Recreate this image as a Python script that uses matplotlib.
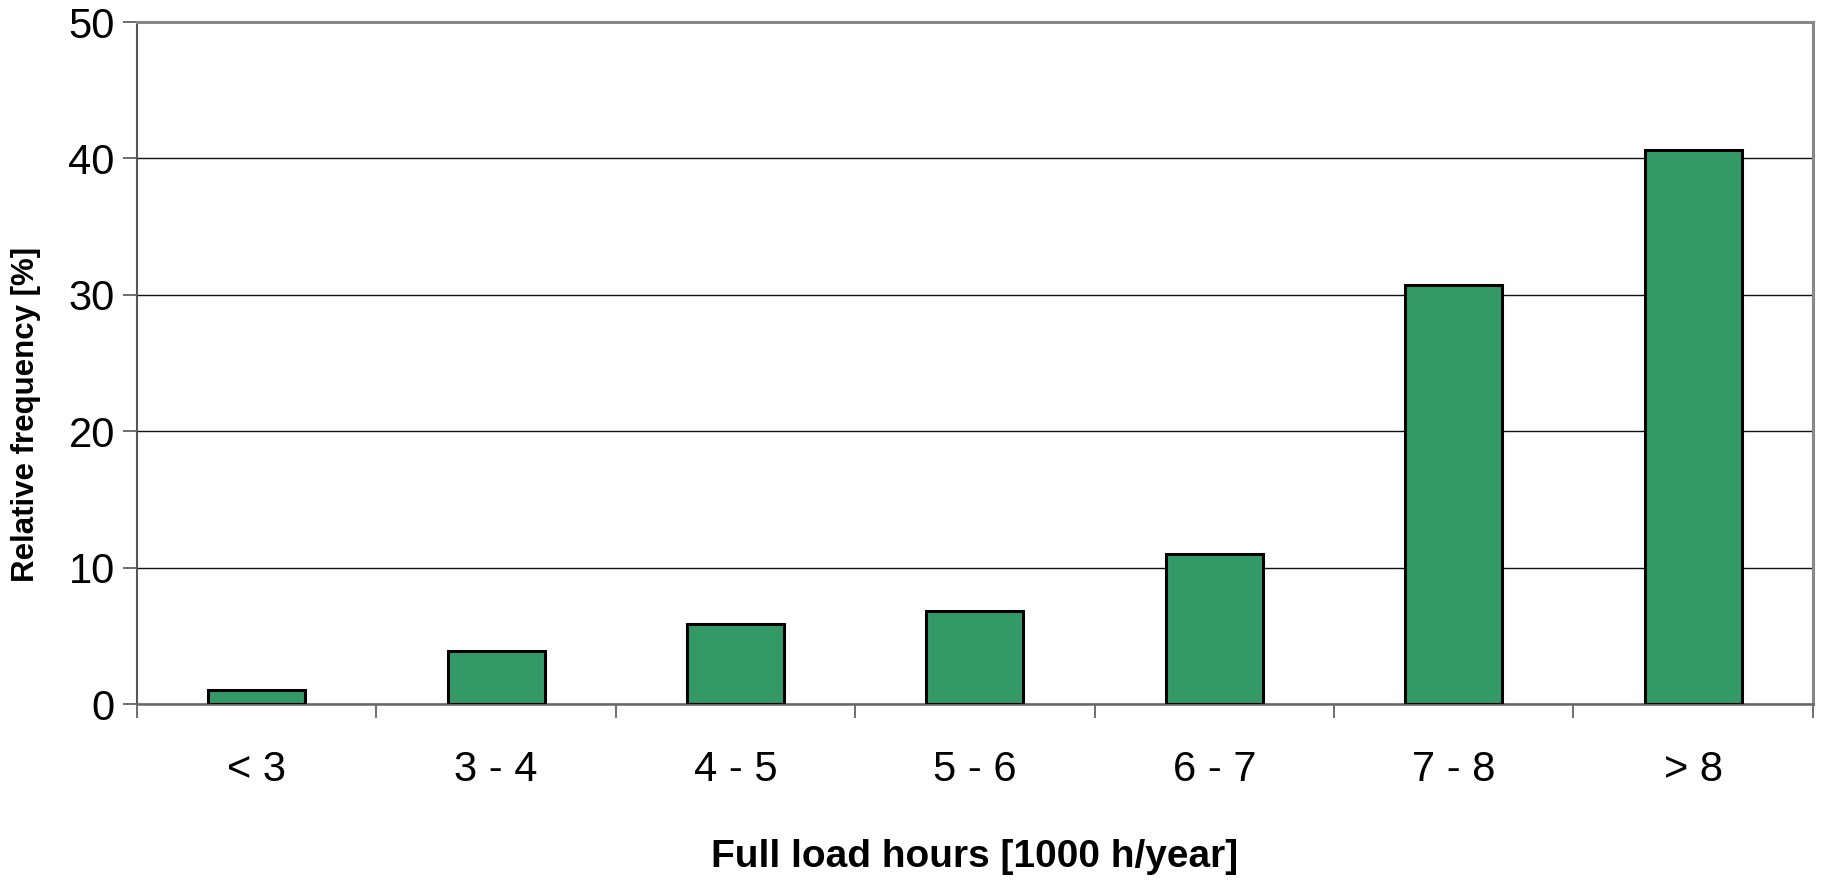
import numpy as np
import matplotlib
matplotlib.use("Agg")
import matplotlib.pyplot as plt

plt.rcParams['font.family'] = ['Liberation Sans', 'DejaVu Sans']

categories = ['< 3', '3 - 4', '4 - 5', '5 - 6', '6 - 7', '7 - 8', '> 8']
frequency = [1.0, 3.9, 5.9, 6.85, 11.0, 30.7, 40.6]

fig = plt.figure(figsize=(18.22, 8.82), dpi=100)
ax = fig.add_axes([0.0752, 0.2018, 0.9198, 0.7732])

x = np.arange(len(categories))
ax.bar(x, frequency, width=0.405, color='#339966', edgecolor='black',
       linewidth=2.2, zorder=3)

ax.set_xlim(-0.5, len(categories) - 0.5)
ax.set_ylim(0, 50)
ax.set_yticks(np.arange(0, 51, 10))
ax.yaxis.grid(True, color='#111111', linewidth=1.0, zorder=0)

ax.set_xticks(x)
ax.set_xticklabels(categories, fontsize=30)
ax.set_xticks(np.arange(-0.5, len(categories)), minor=True)
ax.tick_params(axis='x', which='major', length=0, pad=33)
ax.tick_params(axis='x', which='minor', length=10, width=1.2, color='#555555')
ax.tick_params(axis='y', labelsize=30, length=10, width=1.2, color='#555555', pad=6)

for side in ['top', 'right']:
    ax.spines[side].set_color('#888888')
    ax.spines[side].set_linewidth(2.2)
ax.spines['left'].set_color('#555555')
ax.spines['left'].set_linewidth(1.5)
ax.spines['bottom'].set_color('#666666')
ax.spines['bottom'].set_linewidth(1.8)

ax.set_xlabel('Full load hours [1000 h/year]', fontsize=28, fontweight='bold')
ax.xaxis.label.set_va('center')
ax.xaxis.set_label_coords(0.5, -0.225)
ax.set_ylabel('Relative frequency [%]', fontsize=22.5, fontweight='bold')
ax.yaxis.label.set_va('center')
ax.yaxis.set_label_coords(-0.066, 0.424)

fig.savefig('out.png', dpi=100)
